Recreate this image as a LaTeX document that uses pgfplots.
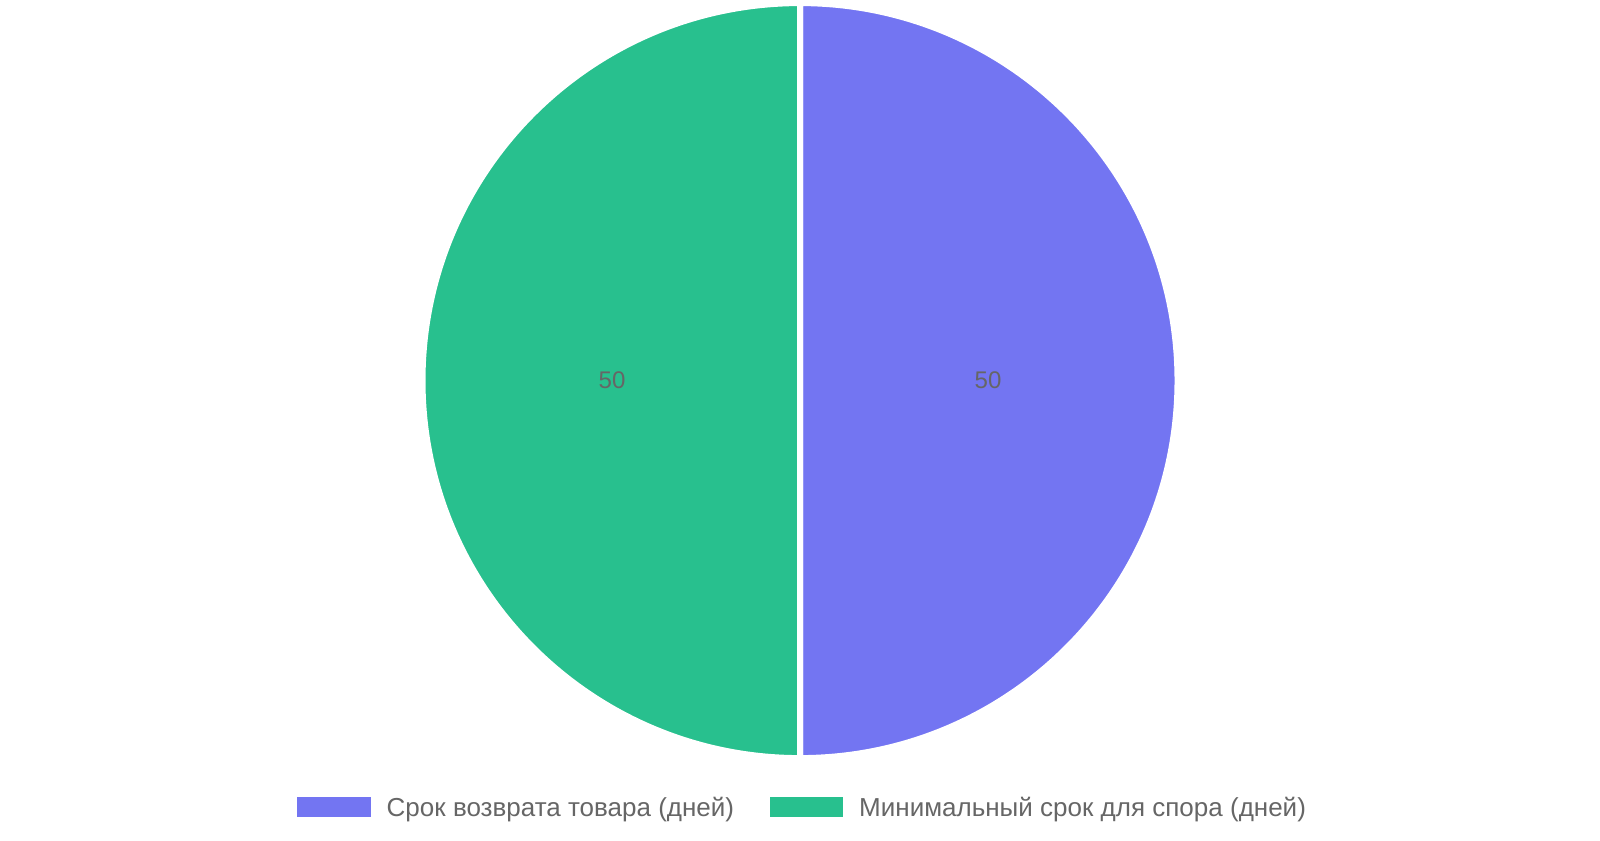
\documentclass[border=0pt]{standalone}
\usepackage{fontspec}
\setmainfont{Liberation Sans}
\usepackage{pgfplots}
\usepackage{pgfplotstable}
\pgfplotsset{compat=1.18}
\usetikzlibrary{calc}

\definecolor{sliceA}{HTML}{7375F2}
\definecolor{sliceB}{HTML}{28C08E}
\definecolor{txt}{HTML}{666666}

% values of the two slices
\pgfplotstableread{
idx value
0 50
1 50
}\piedata
\pgfplotstablegetelem{0}{value}\of\piedata \let\va\pgfplotsretval
\pgfplotstablegetelem{1}{value}\of\piedata \let\vb\pgfplotsretval
\pgfmathsetmacro\tot{\va+\vb}
\pgfmathsetmacro\aA{90}
\pgfmathsetmacro\aB{\aA-360*(\va/\tot)}
\pgfmathsetmacro\aC{\aB-360*(\vb/\tot)}
\pgfmathsetmacro\mA{(\aA+\aB)/2}
\pgfmathsetmacro\mB{(\aB+\aC)/2}
\def\R{3.775}
\def\cx{8.00}
\def\cy{4.594}

\begin{document}
\begin{tikzpicture}
\begin{axis}[
    at={(0,0)}, anchor=origin,
    x=1cm, y=1cm,
    xmin=0, xmax=16, ymin=0, ymax=8.4,
    hide axis, xtick=\empty, ytick=\empty,
    scale only axis, clip=false,
]
% slices
\fill[sliceA, draw=white, line width=0.06cm, line join=round]
  (axis cs:\cx,\cy) -- ++(\aA:\R cm) arc[start angle=\aA, end angle=\aB, radius=\R cm] -- cycle;
\fill[sliceB, draw=white, line width=0.06cm, line join=round]
  (axis cs:\cx,\cy) -- ++(\aB:\R cm) arc[start angle=\aB, end angle=\aC, radius=\R cm] -- cycle;
% value labels
\node[text=txt, font=\fontsize{6.85pt}{8pt}\selectfont, inner sep=0pt]
  at ($(axis cs:\cx,\cy)+(\mA:0.5*3.76cm)$) {\va};
\node[text=txt, font=\fontsize{6.85pt}{8pt}\selectfont, inner sep=0pt]
  at ($(axis cs:\cx,\cy)+(\mB:0.5*3.76cm)$) {\vb};
% legend
\fill[sliceA] (axis cs:2.973,0.232) rectangle (axis cs:3.71,0.427);
\node[anchor=base west, inner sep=0pt, text=txt, font=\fontsize{7.4pt}{9pt}\selectfont]
  at (axis cs:3.86,0.24) {Срок возврата товара (дней)};
\fill[sliceB] (axis cs:7.695,0.232) rectangle (axis cs:8.432,0.427);
\node[anchor=base west, inner sep=0pt, text=txt, font=\fontsize{7.4pt}{9pt}\selectfont]
  at (axis cs:8.585,0.24) {Минимальный срок для спора (дней)};
\end{axis}
\pgfresetboundingbox
\useasboundingbox (0,0) rectangle (16,8.4);
\end{tikzpicture}
\end{document}
